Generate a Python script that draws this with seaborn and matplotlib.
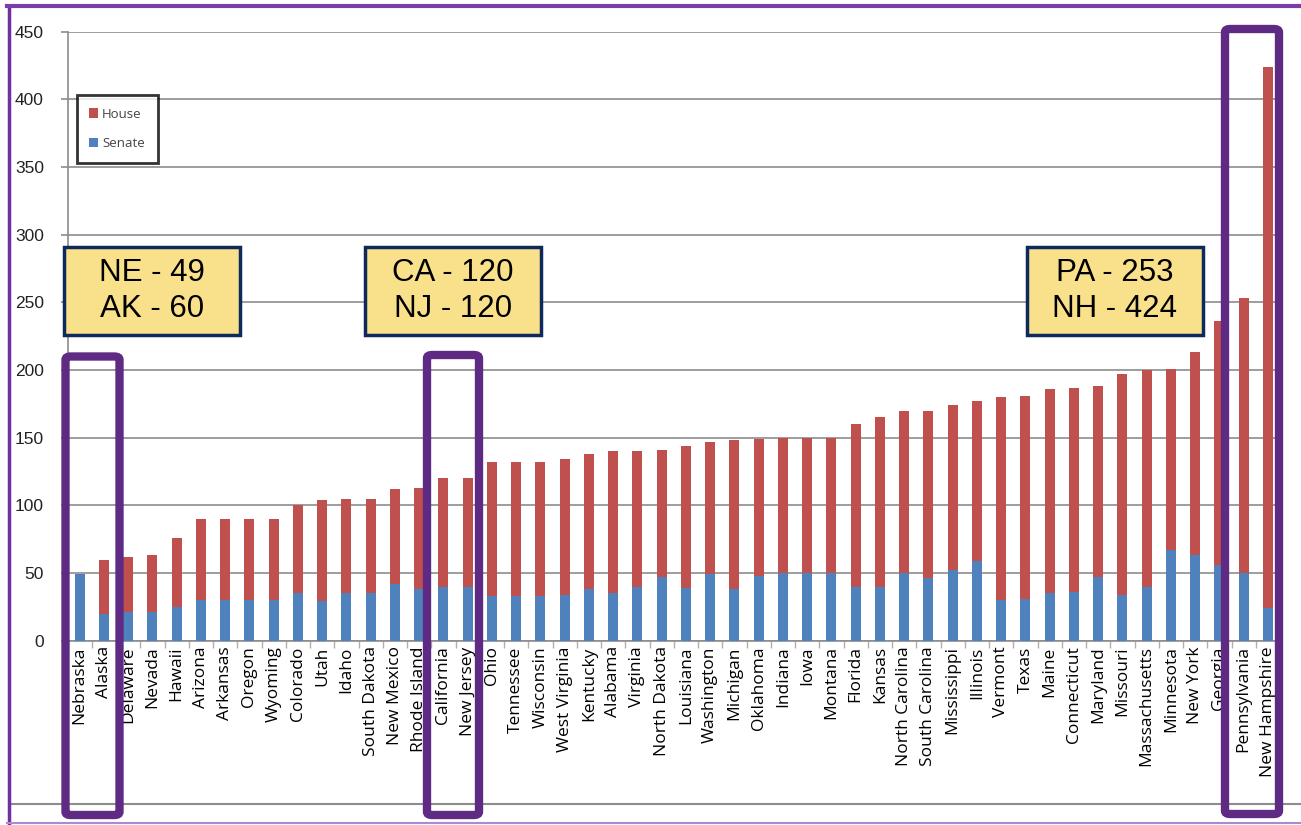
import pandas as pd
import numpy as np
import matplotlib
matplotlib.use("Agg")
import matplotlib.pyplot as plt
from matplotlib.patches import Rectangle, FancyBboxPatch, Patch
from matplotlib.lines import Line2D
import seaborn as sns

# State legislature sizes, sorted by total seats
states = ["Nebraska", "Alaska", "Delaware", "Nevada", "Hawaii", "Arizona", "Arkansas",
          "Oregon", "Wyoming", "Colorado", "Utah", "Idaho", "South Dakota", "New Mexico",
          "Rhode Island", "California", "New Jersey", "Ohio", "Tennessee", "Wisconsin",
          "West Virginia", "Kentucky", "Alabama", "Virginia", "North Dakota", "Louisiana",
          "Washington", "Michigan", "Oklahoma", "Indiana", "Iowa", "Montana", "Florida",
          "Kansas", "North Carolina", "South Carolina", "Mississippi", "Illinois", "Vermont",
          "Texas", "Maine", "Connecticut", "Maryland", "Missouri", "Massachusetts",
          "Minnesota", "New York", "Georgia", "Pennsylvania", "New Hampshire"]
senate = [49, 20, 21, 21, 25, 30, 30, 30, 30, 35, 29, 35, 35, 42, 38, 40, 40, 33, 33, 33,
          34, 38, 35, 40, 47, 39, 49, 38, 48, 50, 50, 50, 40, 40, 50, 46, 52, 59, 30, 31,
          35, 36, 47, 34, 40, 67, 63, 56, 50, 24]
house = [0, 40, 41, 42, 51, 60, 60, 60, 60, 65, 75, 70, 70, 70, 75, 80, 80, 99, 99, 99,
         100, 100, 105, 100, 94, 105, 98, 110, 101, 100, 100, 100, 120, 125, 120, 124, 122,
         118, 150, 150, 151, 151, 141, 163, 160, 134, 150, 180, 203, 400]

# callouts
callout_text = ["NE - 49\nAK - 60", "CA - 120\nNJ - 120", "PA - 253\nNH - 424"]

df = pd.DataFrame({"State": states, "Senate": senate, "House": house})
df["Total"] = df["Senate"] + df["House"]

RED = "#C0504D"
BLUE = "#4F81BD"
GRID = "#8C8C8C"
PURPLE = "#5E2A84"

W, H = 1301, 825
fig = plt.figure(figsize=(W / 100, H / 100), dpi=100)
fig.patch.set_facecolor("white")

# axes placed in pixel terms
ax_left, ax_right, ax_top, ax_bot = 67.5, 1280, 31.7, 640.7
ax = fig.add_axes([ax_left / W, 1 - ax_bot / H, (ax_right - ax_left) / W, (ax_bot - ax_top) / H])

sns.barplot(data=df, x="State", y="Total", color=RED, width=0.42, saturation=1,
            ax=ax, zorder=3, order=states)
sns.barplot(data=df, x="State", y="Senate", color=BLUE, width=0.42, saturation=1,
            ax=ax, zorder=4, order=states)

ax.set_xlim(-0.5, len(states) - 0.5)
ax.set_ylim(0, 450)
ax.set_yticks(np.arange(0, 451, 50))
ax.yaxis.grid(True, color=GRID, lw=1.2, zorder=0)
ax.set_axisbelow(True)
ax.set_xlabel("")
ax.set_ylabel("")

for s in ["top", "right"]:
    ax.spines[s].set_visible(False)
for s in ["left", "bottom"]:
    ax.spines[s].set_color(GRID)
    ax.spines[s].set_linewidth(1.2)

ax.tick_params(axis="y", length=5, color=GRID, width=1.2, labelsize=12.5,
               labelcolor="#222222", pad=12)
for t in ax.get_yticklabels():
    t.set_fontfamily("Liberation Sans")

# category labels, with boundary ticks like Excel
ax.set_xticks(range(len(states)))
ax.set_xticklabels(states, rotation=90, fontsize=12.5, fontfamily="Open Sans", color="black")
ax.tick_params(axis="x", which="major", length=0, pad=4)
ax.set_xticks(np.arange(-0.5, len(states)), minor=True)
ax.tick_params(axis="x", which="minor", length=5, color="#B0B0B0", width=1)

# legend box
handles = [Patch(facecolor=RED, edgecolor="none"), Patch(facecolor=BLUE, edgecolor="none")]
leg = fig.legend(handles, ["House", "Senate"], loc="upper left",
                 bbox_to_anchor=(76.5 / W, 1 - 95 / H), frameon=True, fancybox=False,
                 handlelength=0.7, handleheight=0.7, handletextpad=0.3,
                 labelspacing=1.25, borderpad=0.95, borderaxespad=0,
                 prop={"family": "Open Sans", "size": 9.5})
leg.get_frame().set_edgecolor("black")
leg.get_frame().set_linewidth(2)
for t in leg.get_texts():
    t.set_color("#444444")


def px_rect(x0, y0, x1, y1):
    return x0 / W, 1 - y1 / H, (x1 - x0) / W, (y1 - y0) / H


# yellow callouts
callout_x = [64, 365, 1027]
for x0, txt in zip(callout_x, callout_text):
    bx, by, bw, bh = px_rect(x0, 247, x0 + 176, 335)
    fig.patches.append(Rectangle((bx, by), bw, bh, transform=fig.transFigure,
                                 facecolor="#F9E08A", edgecolor="#0E2A5C", lw=2.5, zorder=10))
    fig.text(bx + bw / 2, by + bh / 2, txt, ha="center", va="center", fontsize=22.5,
             fontfamily="Liberation Sans", linespacing=1.3, zorder=11)

# purple highlight frames
frames = [(65.5, 356.5, 119.5, 815), (427, 355, 479, 815), (1225, 29, 1279, 814)]
for x0, y0, x1, y1 in frames:
    bx, by, bw, bh = px_rect(x0, y0, x1, y1)
    fig.patches.append(FancyBboxPatch((bx, by), bw, bh, boxstyle="round,pad=0,rounding_size=0.004",
                                      transform=fig.transFigure, facecolor="none",
                                      edgecolor=PURPLE, lw=6, zorder=12))

# chart area bottom line and slide frame
fig.add_artist(Line2D([10 / W, 1], [1 - 804 / H] * 2, color=GRID, lw=1.5, zorder=1))
fig.add_artist(Line2D([8.5 / W, 8.5 / W], [0, 1 - 6 / H], color="#7030A0", lw=2.5, zorder=2))
fig.add_artist(Line2D([7 / W, 1], [1 - 6 / H] * 2, color="#7A3DAA", lw=3, zorder=2))
fig.add_artist(Line2D([7 / W, 1], [1 - 822.5 / H] * 2, color="#A98BD0", lw=1.5, zorder=2))

fig.savefig("out.png", dpi=100)
